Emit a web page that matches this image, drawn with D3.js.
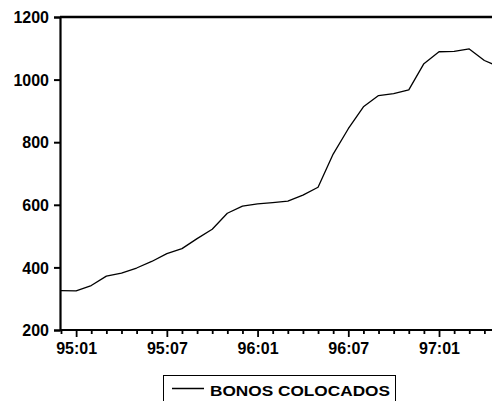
<!DOCTYPE html>
<html>
<head>
<meta charset="utf-8">
<script src="https://cdn.jsdelivr.net/npm/d3@7"></script>
<style>
    body { margin: 0; background: #fff; }
    svg { display: block; }
    text { font-family: "Liberation Sans", Arial, sans-serif; font-weight: bold; fill: #000; }
</style>
</head>
<body>
<svg width="492" height="401"></svg>
<script>
// Monthly observations, 94:12 .. 97:05
const months = ["94:12",
    "95:01", "95:02", "95:03", "95:04", "95:05", "95:06", "95:07", "95:08", "95:09", "95:10", "95:11", "95:12",
    "96:01", "96:02", "96:03", "96:04", "96:05", "96:06", "96:07", "96:08", "96:09", "96:10", "96:11", "96:12",
    "97:01", "97:02", "97:03", "97:04", "97:05"];
const bonosColocados = [326,
    325, 342, 372, 382, 398, 419, 444, 460, 492, 522, 573, 596,
    603, 607, 612, 631, 656, 762, 843, 913, 949, 955, 967, 1051,
    1089, 1090, 1098, 1061, 1040];
const xTickLabels = ["95:01", "95:07", "96:01", "96:07", "97:01"];
const yTicks = [200, 400, 600, 800, 1000, 1200];
const seriesName = "BONOS COLOCADOS";

const svg = d3.select("svg");
const margin = { top: 17, left: 60, bottom: 330 };

const x = d3.scalePoint()
    .domain(months)
    .range([61, 499.5]);

const y = d3.scaleLinear()
    .domain([200, 1200])
    .range([margin.bottom, margin.top]);

// frame: top border
svg.append("line")
    .attr("x1", margin.left).attr("x2", 492)
    .attr("y1", margin.top).attr("y2", margin.top)
    .attr("stroke", "#000").attr("stroke-width", 2.5);

// y axis
const yAxis = svg.append("g")
    .attr("transform", `translate(${margin.left},0)`)
    .call(d3.axisLeft(y).tickValues(yTicks).tickFormat(d3.format("d")).tickSize(6).tickPadding(5));
yAxis.select(".domain").attr("stroke-width", 2.2);
yAxis.selectAll(".tick line").attr("stroke-width", 2);
yAxis.selectAll(".tick text")
    .attr("font-size", 16)
    .attr("font-family", null)
    .attr("dy", "0.36em");

// x axis: every month a tick, long ones every six months
const xAxis = svg.append("g")
    .attr("transform", `translate(0,${margin.bottom})`)
    .call(d3.axisBottom(x).tickSize(4).tickFormat(d => xTickLabels.includes(d) ? d : ""));
xAxis.select(".domain").attr("d", `M${margin.left},0H492`).attr("stroke-width", 2.2);
xAxis.selectAll(".tick line")
    .attr("stroke-width", 1.8)
    .attr("y2", d => xTickLabels.includes(d) ? 7 : 4);
xAxis.selectAll(".tick text")
    .attr("font-size", 16)
    .attr("font-family", null)
    .attr("y", 13)
    .attr("dy", "0.71em");

// series line
const line = d3.line()
    .x((d, i) => x(months[i]))
    .y(d => y(d));

svg.append("path")
    .datum(bonosColocados)
    .attr("fill", "none")
    .attr("stroke", "#000")
    .attr("stroke-width", 1.3)
    .attr("stroke-linejoin", "round")
    .attr("d", line);

// legend
const legend = svg.append("g");
legend.append("rect")
    .attr("x", 163.5).attr("y", 375.5)
    .attr("width", 232).attr("height", 40)
    .attr("fill", "none")
    .attr("stroke", "#000").attr("stroke-width", 1);
legend.append("line")
    .attr("x1", 172).attr("x2", 204)
    .attr("y1", 388.5).attr("y2", 388.5)
    .attr("stroke", "#000").attr("stroke-width", 1.5);
legend.append("text")
    .attr("x", 210).attr("y", 395.5)
    .attr("font-size", 15)
    .attr("textLength", 180)
    .attr("lengthAdjust", "spacingAndGlyphs")
    .text(seriesName);
</script>
</body>
</html>
